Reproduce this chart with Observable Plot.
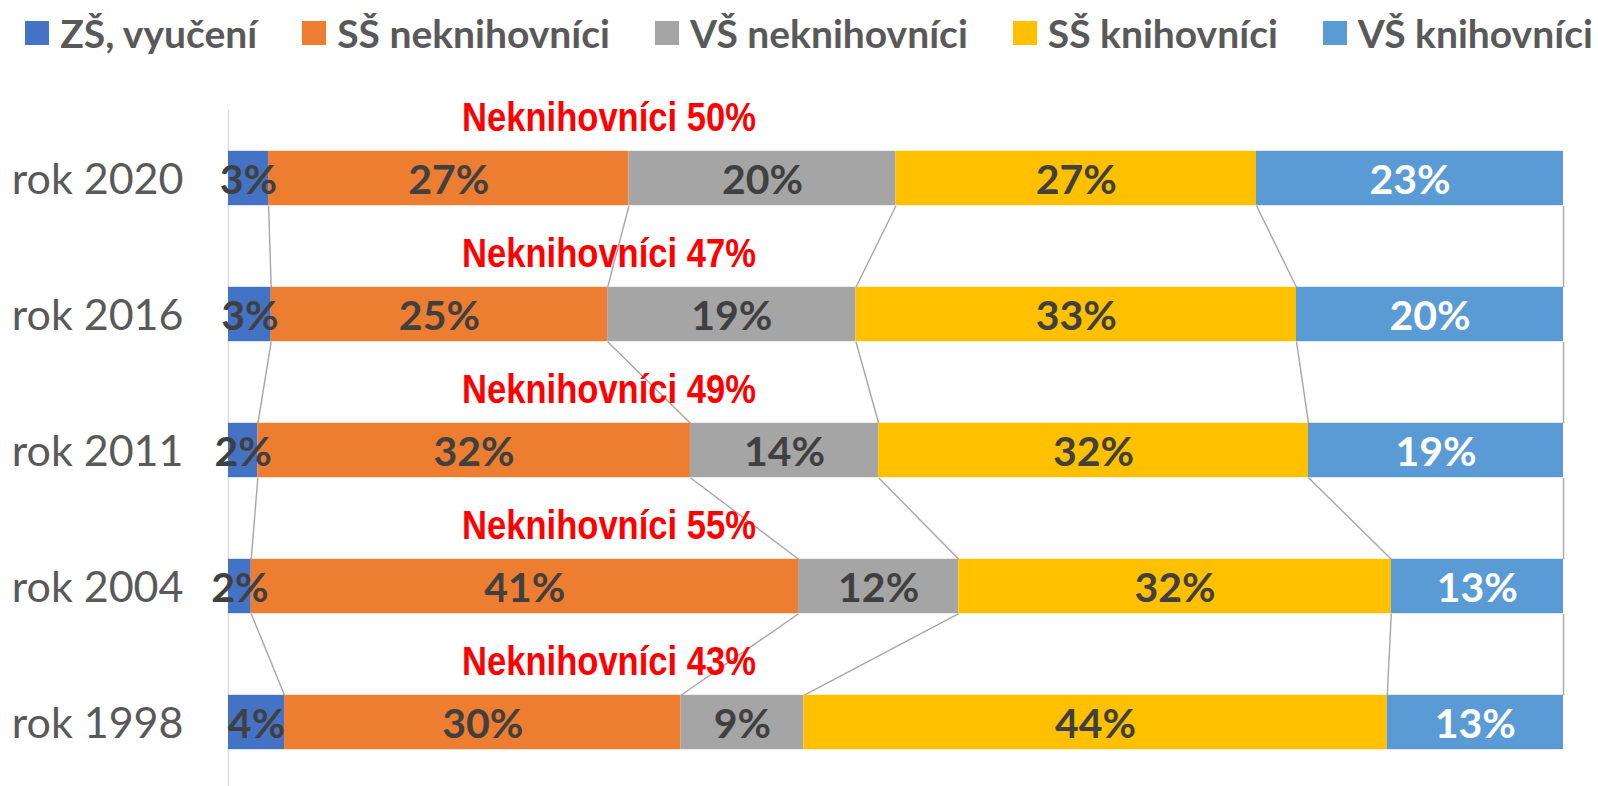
<!DOCTYPE html>
<html><head><meta charset="utf-8">
<script src="https://cdn.jsdelivr.net/npm/d3@7"></script>
<script src="https://cdn.jsdelivr.net/npm/@observablehq/plot@0.6"></script>
<style>
body{margin:0;background:#fff;font-family:Lato,sans-serif;}
#wrap{position:relative;width:1598px;height:786px;overflow:hidden;}
#legend{position:absolute;top:8px;left:10px;width:1598px;height:50px;display:flex;justify-content:center;align-items:center;gap:45px;font-weight:700;font-size:39px;color:#595959;white-space:nowrap;}
.item{display:flex;align-items:center;gap:11px}
.sw{width:24px;height:24px;flex:none}
</style></head><body><div id="wrap"><div id="legend"></div></div>
<script>
const years = ["rok 2020","rok 2016","rok 2011","rok 2004","rok 1998"];
const categories = ["ZŠ, vyučení","SŠ neknihovníci","VŠ neknihovníci","SŠ knihovníci","VŠ knihovníci"];
const colors = ["#4472C4","#ED7D31","#A5A5A5","#FFC000","#5B9BD5"];
const labelColors = ["#404040","#404040","#404040","#404040","#FFFFFF"];
const zsVyuceni = [3.0, 3.2, 2.2, 1.7, 4.2];
const ssNeknihovnici = [27.0, 25.2, 32.4, 41.0, 29.7];
const vsNeknihovnici = [20.0, 18.6, 14.1, 12.0, 9.2];
const ssKnihovnici = [27.0, 33.0, 32.2, 32.4, 43.7];
const vsKnihovnici = [23.0, 20.0, 19.1, 12.9, 13.2];
const series = [zsVyuceni, ssNeknihovnici, vsNeknihovnici, ssKnihovnici, vsKnihovnici];
const neknihLabelX = 28.5;

const half = 0.2;
const rows = [];
const cums = [];
years.forEach((yr, i) => {
  let cum = 0; const c = [0];
  series.forEach((s, k) => {
    rows.push({i, year: yr, k, x1: cum, x2: cum + s[i], v: s[i], fill: colors[k], lab: labelColors[k]});
    cum += s[i]; c.push(cum);
  });
  cums.push(c);
});
const links = [];
for (let i = 0; i < years.length - 1; i++) {
  for (let k = 1; k <= series.length; k++) {
    links.push({x1: cums[i][k], y1: i + half, x2: cums[i+1][k], y2: i + 1 - half});
  }
}
const nek = years.map((yr, i) => ({i, text: "Neknihovníci " + Math.round(zsVyuceni[i] + ssNeknihovnici[i] + vsNeknihovnici[i]) + "%"}));

const legend = document.getElementById("legend");
categories.forEach((c, k) => {
  const it = document.createElement("div"); it.className = "item";
  const sw = document.createElement("div"); sw.className = "sw"; sw.style.background = colors[k];
  const t = document.createElement("span"); t.textContent = c;
  it.appendChild(sw); it.appendChild(t); legend.appendChild(it);
});

const chart = Plot.plot({
  width: 1598, height: 786,
  marginTop: 110, marginBottom: 0, marginLeft: 228, marginRight: 35,
  x: {domain: [0, 100], axis: null},
  y: {domain: [-0.5, 4.5], range: [110, 790], axis: null},
  color: {type: "identity"},
  style: {fontFamily: "Lato, sans-serif", background: "white"},
  marks: [
    Plot.ruleX([0], {stroke: "#D9D9D9", strokeWidth: 1.3}),
    Plot.link(links, {x1: "x1", y1: "y1", x2: "x2", y2: "y2", stroke: "#A6A6A6", strokeWidth: 1.4}),
    Plot.rectX(rows, {x1: "x1", x2: "x2", y1: d => d.i - half, y2: d => d.i + half, fill: "fill"}),
    Plot.text(rows, {x: d => (d.x1 + d.x2) / 2, y: "i", text: d => Math.round(d.v) + "%", fill: "lab", fontSize: 41, fontWeight: 700, dy: 2}),
    Plot.text(years, {x: 0, y: (d, i) => i, text: d => d, textAnchor: "end", dx: -45, dy: 2, fontSize: 43, fill: "#595959"}),
    Plot.text(nek, {x: neknihLabelX, y: "i", text: "text", fill: "#FF0000", fontSize: 40, fontWeight: 700, dy: -60, fontFamily: "'Liberation Sans Narrow', 'Arial Narrow', 'Liberation Sans', sans-serif"})
  ]
});
document.getElementById("wrap").insertBefore(chart, legend);
// condense the red annotation glyphs horizontally (narrow bold face in the original)
chart.querySelectorAll("text").forEach(t => {
  if (t.textContent.startsWith("Neknihovníci")) {
    const w = t.getComputedTextLength();
    t.setAttribute("textLength", (w * 0.864).toFixed(1));
    t.setAttribute("lengthAdjust", "spacingAndGlyphs");
  }
});
</script></body></html>
